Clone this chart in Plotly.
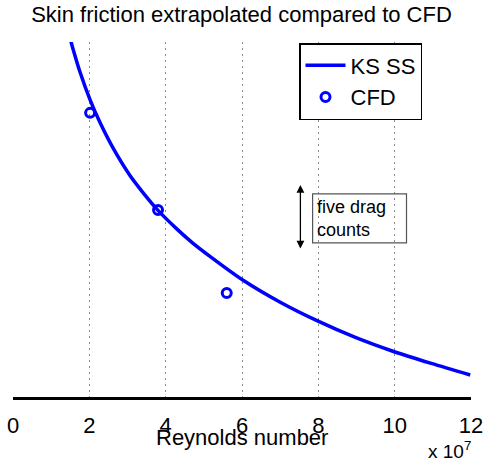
import plotly.graph_objects as go

# KS SS curve (Reynolds number in units of 1e7, skin friction in drag counts, offset)
ks_re = [1.47, 1.55, 1.76, 2.02, 2.28, 2.62, 3.06, 3.40, 3.80, 4.29, 4.71, 5.16,
         6.02, 6.99, 7.98, 8.97, 9.97, 10.96, 11.98]
ks_cf = [27.85, 27.0, 24.95, 22.85, 21.1, 19.15, 17.05, 15.74, 14.35, 12.93, 11.84, 10.82,
         9.0, 7.31, 5.85, 4.58, 3.5, 2.58, 1.69]

# CFD points
cfd_re = [2.02, 3.80, 5.60]
cfd_cf = [21.85, 14.38, 8.0]

x_ticks = [0, 2, 4, 6, 8, 10, 12]
x_ticklabels = ["0", "2", "4", "6", "8", "10", "12"]

FONT = "Liberation Sans, Arial, sans-serif"
BLUE = "#0000ff"

fig = go.Figure()
fig.add_trace(go.Scatter(x=ks_re, y=ks_cf, mode="lines", name="KS SS",
                         line=dict(color=BLUE, width=3.5, shape="spline", smoothing=0.8)))
fig.add_trace(go.Scatter(x=cfd_re, y=cfd_cf, mode="markers", name="CFD",
                         marker=dict(symbol="circle-open", size=9, color=BLUE,
                                     line=dict(width=3, color=BLUE))))

# "five drag counts" double arrow
fig.add_annotation(x=7.53, y=16.3, ax=7.53, ay=11.3, xref="x", yref="y",
                   axref="x", ayref="y", text="", showarrow=True,
                   arrowhead=2, arrowsize=1.2, arrowwidth=1.3, arrowside="end+start",
                   arrowcolor="black")
fig.add_shape(type="rect", x0=7.85, x1=10.31, y0=11.85, y1=15.62,
              xref="x", yref="y", line=dict(color="#555555", width=1.2))
fig.add_annotation(x=7.9, y=13.7, xref="x", yref="y", text="five drag<br>counts",
                   showarrow=False, xanchor="left", yanchor="middle", align="left",
                   font=dict(family=FONT, size=18, color="black"))

# axis title and exponent
fig.add_annotation(x=0.5, y=0, xref="paper", yref="paper", text="Reynolds number",
                   showarrow=False, xanchor="center", yanchor="top", yshift=-26,
                   font=dict(family=FONT, size=22, color="black"))
fig.add_annotation(x=1, y=0, xref="paper", yref="paper", text="x 10<sup>7</sup>",
                   showarrow=False, xanchor="right", yanchor="top", yshift=-39, xshift=2,
                   font=dict(family=FONT, size=19, color="black"))

fig.update_layout(
    width=483, height=462,
    margin=dict(l=13, r=12, t=42, b=65, autoexpand=False),
    paper_bgcolor="white", plot_bgcolor="white",
    title=dict(text="Skin friction extrapolated compared to CFD", x=0.5, xanchor="center",
               y=1 - 7 / 462, yanchor="top", yref="container",
               font=dict(family=FONT, size=22, color="black")),
    font=dict(family=FONT, size=22, color="black"),
    showlegend=True,
    legend=dict(x=(299 - 13) / 458, y=(397 - 43) / 355, xanchor="left", yanchor="top",
                bordercolor="black", borderwidth=1.5, bgcolor="white",
                font=dict(family=FONT, size=22, color="black"),
                tracegroupgap=0, itemwidth=40),
    xaxis=dict(range=[0, 12], tickvals=x_ticks, ticktext=x_ticklabels,
               showgrid=True, gridcolor="#888888", griddash="2px,4px", gridwidth=1,
               showline=True, linecolor="black", linewidth=3, ticks="outside",
               ticklen=7, tickwidth=1, tickcolor="rgba(0,0,0,0)", zeroline=False,
               ticklabeloverflow="allow", automargin=False,
               tickfont=dict(family=FONT, size=22, color="black")),
    yaxis=dict(range=[0, 27.3], visible=False, showgrid=False, zeroline=False,
               automargin=False),
)

fig.write_html("out.html")
